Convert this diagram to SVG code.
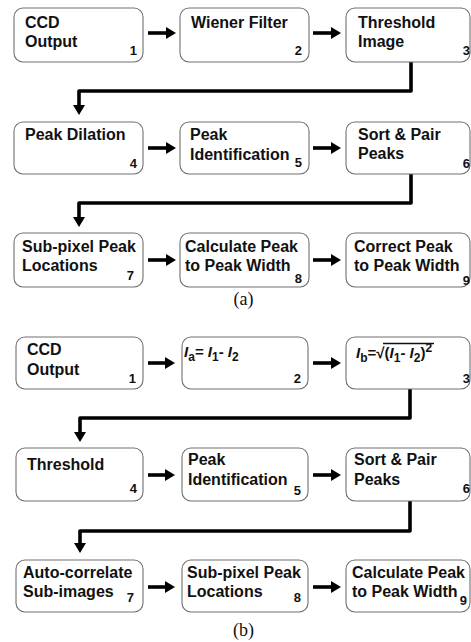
<svg xmlns="http://www.w3.org/2000/svg" width="471" height="642" viewBox="0 0 471 642">
<defs>
<marker id="ah" markerUnits="userSpaceOnUse" markerWidth="12" markerHeight="12" refX="2" refY="6" orient="auto" viewBox="0 0 12 12">
<path d="M0,0 L10,6 L0,12 z" fill="#000"/>
</marker>
<style>
.box{fill:#fff;stroke:#707070;stroke-width:1.1}
.t{font-family:"Liberation Sans",Arial,sans-serif;font-weight:bold;font-size:16px;fill:#111}
.n{font-family:"Liberation Sans",Arial,sans-serif;font-weight:bold;font-size:13px;fill:#111;text-anchor:end}
.f{font-family:"Liberation Sans",Arial,sans-serif;font-weight:bold;font-style:italic;font-size:15px;fill:#111}
.s{font-size:12px;font-style:normal}
.cap{font-family:"Liberation Serif","Times New Roman",serif;font-size:18px;fill:#111;text-anchor:middle}
.c{fill:none;stroke:#000;stroke-width:3.6;stroke-linejoin:round}
</style>
</defs>
<rect width="471" height="642" fill="#fff"/>
<g id="connectors">
<path class="c" d="M148,33 H168" marker-end="url(#ah)"/>
<path class="c" d="M313,33 H333" marker-end="url(#ah)"/>
<path class="c" d="M148,148 H168" marker-end="url(#ah)"/>
<path class="c" d="M313,148 H333" marker-end="url(#ah)"/>
<path class="c" d="M148,260 H168" marker-end="url(#ah)"/>
<path class="c" d="M313,260 H333" marker-end="url(#ah)"/>
<path class="c" d="M411,62 V91 H79 V107" marker-end="url(#ah)"/>
<path class="c" d="M411,174 V203 H79 V219" marker-end="url(#ah)"/>
<path class="c" d="M148,363 H167" marker-end="url(#ah)"/>
<path class="c" d="M313,363 H333" marker-end="url(#ah)"/>
<path class="c" d="M148,475 H167" marker-end="url(#ah)"/>
<path class="c" d="M313,475 H333" marker-end="url(#ah)"/>
<path class="c" d="M148,587 H167" marker-end="url(#ah)"/>
<path class="c" d="M313,587 H333" marker-end="url(#ah)"/>
<path class="c" d="M410,389 V418 H80 V434" marker-end="url(#ah)"/>
<path class="c" d="M410,501 V531 H80 V545" marker-end="url(#ah)"/>
</g>
<g id="a1"><rect class="box" x="14" y="8" width="129" height="54" rx="9"/><text class="t" x="25" y="28">CCD</text><text class="t" x="25" y="47">Output</text><text class="n" x="137" y="55">1</text></g>
<g id="a2"><rect class="box" x="180" y="8" width="129" height="54" rx="9"/><text class="t" x="191" y="28">Wiener Filter</text><text class="n" x="302" y="55">2</text></g>
<g id="a3"><rect class="box" x="346" y="8" width="124" height="54" rx="9"/><text class="t" x="358" y="28">Threshold</text><text class="t" x="358" y="47">Image</text><text class="n" x="470" y="55">3</text></g>
<g id="a4"><rect class="box" x="14" y="122" width="129" height="52" rx="9"/><text class="t" x="25" y="140">Peak Dilation</text><text class="n" x="137" y="168">4</text></g>
<g id="a5"><rect class="box" x="180" y="122" width="129" height="52" rx="9"/><text class="t" x="190" y="140">Peak</text><text class="t" x="190" y="160">Identification</text><text class="n" x="302" y="167">5</text></g>
<g id="a6"><rect class="box" x="346" y="122" width="124" height="52" rx="9"/><text class="t" x="358" y="140">Sort &amp; Pair</text><text class="t" x="358" y="159">Peaks</text><text class="n" x="470" y="168">6</text></g>
<g id="a7"><rect class="box" x="14" y="233" width="129" height="54" rx="9"/><text class="t" x="22" y="252">Sub-pixel Peak</text><text class="t" x="22" y="271">Locations</text><text class="n" x="134" y="280">7</text></g>
<g id="a8"><rect class="box" x="180" y="233" width="129" height="54" rx="9"/><text class="t" x="185" y="252">Calculate Peak</text><text class="t" x="185" y="271">to Peak Width</text><text class="n" x="302" y="283">8</text></g>
<g id="a9"><rect class="box" x="346" y="233" width="124" height="54" rx="9"/><text class="t" x="354" y="252">Correct Peak</text><text class="t" x="354" y="271">to Peak Width</text><text class="n" x="470" y="285">9</text></g>
<text class="cap" x="243.5" y="305">(a)</text>
<g id="b1"><rect class="box" x="16" y="337" width="127" height="52" rx="9"/><text class="t" x="27" y="355">CCD</text><text class="t" x="27" y="375">Output</text><text class="n" x="136" y="383">1</text></g>
<g id="b2"><rect class="box" x="182" y="337" width="126" height="52" rx="9"/><text class="f" x="184" y="357">I<tspan class="s" dy="4">a</tspan><tspan dy="-4">= I</tspan><tspan class="s" dy="4">1</tspan><tspan dy="-4">- I</tspan><tspan class="s" dy="4">2</tspan></text><text class="n" x="301" y="383">2</text></g>
<g id="b3"><rect class="box" x="346" y="337" width="124" height="52" rx="9"/><text class="f" x="356" y="358">I<tspan class="s" dy="4">b</tspan><tspan dy="-4" font-style="normal">=√(</tspan>I<tspan class="s" dy="4">1</tspan><tspan dy="-4">- I</tspan><tspan class="s" dy="4">2</tspan><tspan dy="-4" font-style="normal">)</tspan><tspan class="s" dy="-6">2</tspan></text><line x1="383" y1="343.5" x2="434" y2="343.5" stroke="#111" stroke-width="1.3"/><text class="n" x="470" y="383">3</text></g>
<g id="b4"><rect class="box" x="16" y="448" width="127" height="53" rx="9"/><text class="t" x="27" y="470">Threshold</text><text class="n" x="137" y="493">4</text></g>
<g id="b5"><rect class="box" x="182" y="448" width="126" height="53" rx="9"/><text class="t" x="188" y="465">Peak</text><text class="t" x="188" y="485">Identification</text><text class="n" x="301" y="495">5</text></g>
<g id="b6"><rect class="box" x="346" y="448" width="124" height="53" rx="9"/><text class="t" x="354" y="465">Sort &amp; Pair</text><text class="t" x="354" y="485">Peaks</text><text class="n" x="470" y="493">6</text></g>
<g id="b7"><rect class="box" x="16" y="560" width="127" height="52" rx="9"/><text class="t" x="23" y="578">Auto-correlate</text><text class="t" x="23" y="597">Sub-images</text><text class="n" x="134" y="602">7</text></g>
<g id="b8"><rect class="box" x="182" y="560" width="126" height="52" rx="9"/><text class="t" x="187" y="578">Sub-pixel Peak</text><text class="t" x="187" y="597">Locations</text><text class="n" x="301" y="602">8</text></g>
<g id="b9"><rect class="box" x="346" y="560" width="124" height="52" rx="9"/><text class="t" x="352" y="578">Calculate Peak</text><text class="t" x="352" y="597">to Peak Width</text><text class="n" x="467" y="605">9</text></g>
<text class="cap" x="243.5" y="636">(b)</text>
</svg>
